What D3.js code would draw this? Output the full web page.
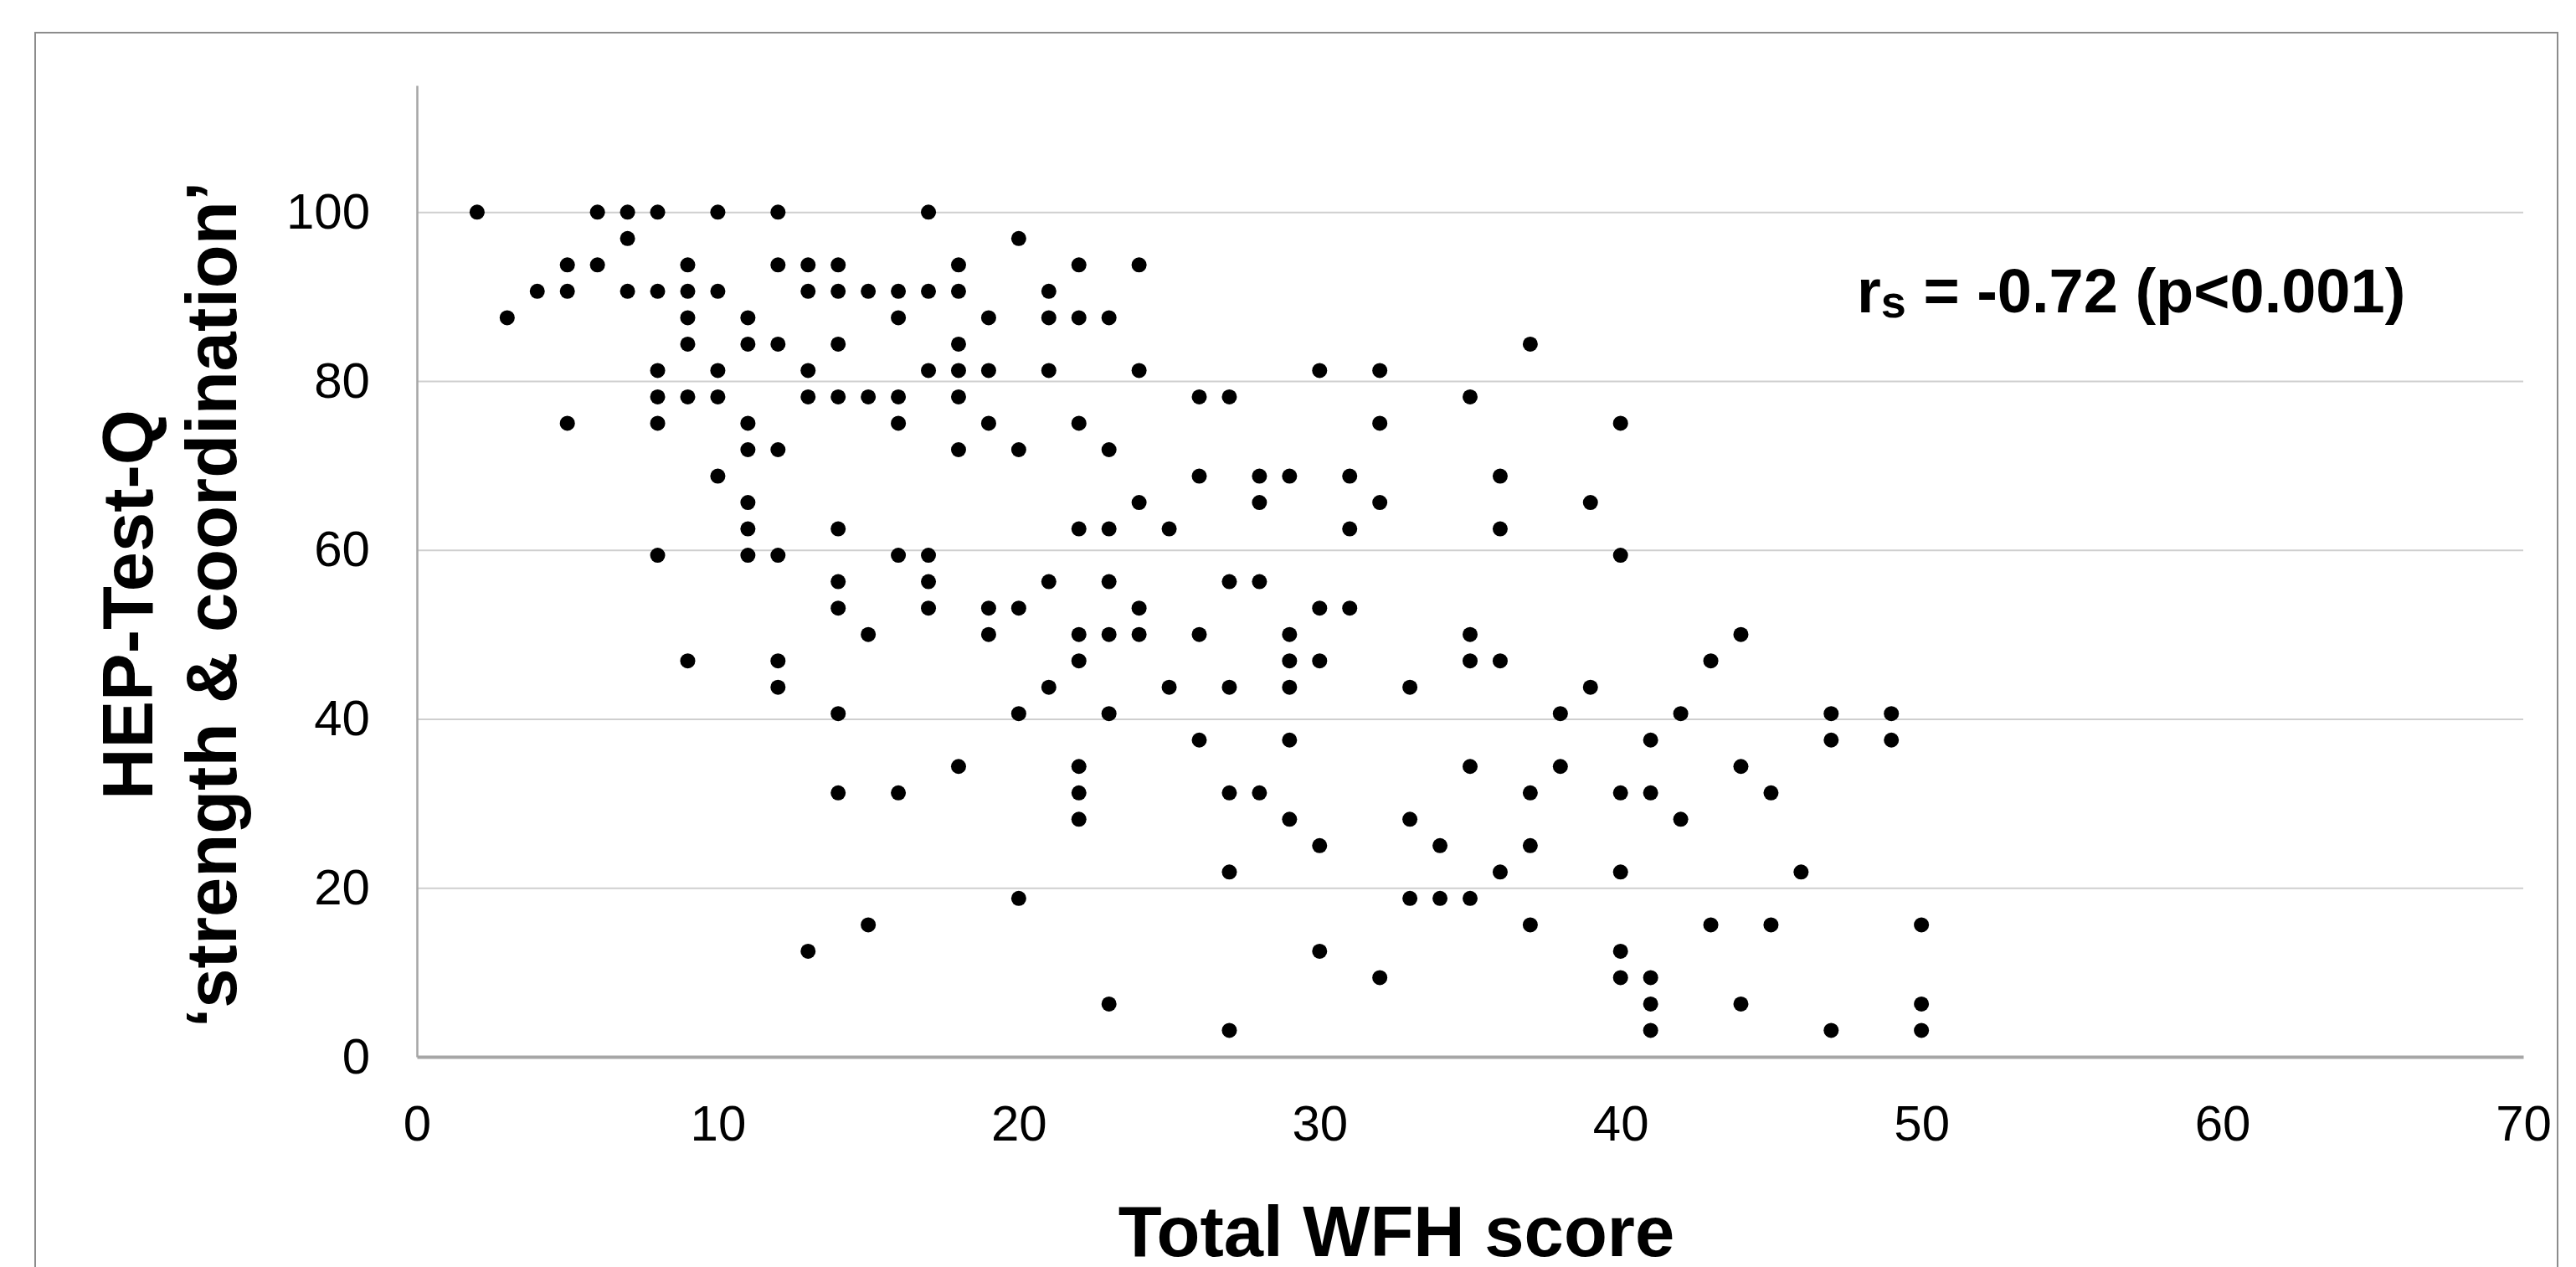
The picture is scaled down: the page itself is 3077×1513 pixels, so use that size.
<!DOCTYPE html>
<html>
<head>
<meta charset="utf-8">
<script src="https://d3js.org/d3.v7.min.js"></script>
<style>
  body { margin: 0; background: #fff; }
  svg { display: block; }
</style>
</head>
<body>
<svg id="chart"></svg>
<script>
// HEP-Test-Q 'strength & coordination' vs total WFH score.
// Scores come in steps of 1/32, so points are kept row by row.
var hepLevels = [100, 96.875, 93.75, 90.625, 87.5, 84.375, 81.25, 78.125, 75,
  71.875, 68.75, 65.625, 62.5, 59.375, 56.25, 53.125, 50, 46.875, 43.75,
  40.625, 37.5, 34.375, 31.25, 28.125, 25, 21.875, 18.75, 15.625, 12.5,
  9.375, 6.25, 3.125]
var wfhByLevel = [
  [2, 6, 7, 8, 10, 12, 17],
  [7, 20],
  [5, 6, 9, 12, 13, 14, 18, 22, 24],
  [4, 5, 7, 8, 9, 10, 13, 14, 15, 16, 17, 18, 21],
  [3, 9, 11, 16, 19, 21, 22, 23],
  [9, 11, 12, 14, 18, 37],
  [8, 10, 13, 17, 18, 19, 21, 24, 30, 32],
  [8, 9, 10, 13, 14, 15, 16, 18, 26, 27, 35],
  [5, 8, 11, 16, 19, 22, 32, 40],
  [11, 12, 18, 20, 23],
  [10, 26, 28, 29, 31, 36],
  [11, 24, 28, 32, 39],
  [11, 14, 22, 23, 25, 31, 36],
  [8, 11, 12, 16, 17, 40],
  [14, 17, 21, 23, 27, 28],
  [14, 17, 19, 20, 24, 30, 31],
  [15, 19, 22, 23, 24, 26, 29, 35, 44],
  [9, 12, 22, 29, 30, 35, 36, 43],
  [12, 21, 25, 27, 29, 33, 39],
  [14, 20, 23, 38, 42, 47, 49],
  [26, 29, 41, 47, 49],
  [18, 22, 35, 38, 44],
  [14, 16, 22, 27, 28, 37, 40, 41, 45],
  [22, 29, 33, 42],
  [30, 34, 37],
  [27, 36, 40, 46],
  [20, 33, 34, 35],
  [15, 37, 43, 45, 50],
  [13, 30, 40],
  [32, 40, 41],
  [23, 41, 44, 50],
  [27, 41, 47, 50]
]
var xTicks = [0, 10, 20, 30, 40, 50, 60, 70]
var yTicks = [0, 20, 40, 60, 80, 100]
var xTitle = 'Total WFH score'
var yTitleLines = ['HEP-Test-Q', '\u2018strength & coordination\u2019']
var corrText = ['r', 's', ' = -0.72 (p<0.001)']

// Layout (pixels)
var width = 3077
var height = 1513
var plot = { left: 498, right: 3014, top: 102, bottom: 1262 }
var font = '"Liberation Sans", Arial, sans-serif'

var points = []
hepLevels.forEach(function (y, i) {
  wfhByLevel[i].forEach(function (x) {
    points.push({ x: x, y: y })
  })
})

var svg = d3.select('#chart')
  .attr('width', width)
  .attr('height', height)
  .style('font-family', font)

svg.append('rect')
  .attr('width', width)
  .attr('height', height)
  .attr('fill', '#fff')

// outer frame of the figure (runs off the bottom)
svg.append('rect')
  .attr('x', 42)
  .attr('y', 39)
  .attr('width', 3013)
  .attr('height', 1520)
  .attr('fill', 'none')
  .attr('stroke', '#8c8c8c')
  .attr('stroke-width', 2)

var x = d3.scaleLinear().domain([0, 70]).range([plot.left, plot.right])
var y = d3.scaleLinear().domain([0, 115]).range([plot.bottom, plot.top])

// gridlines
svg.append('g')
  .attr('transform', 'translate(' + plot.left + ',0)')
  .call(d3.axisLeft(y).tickValues(yTicks.slice(1)).tickSize(-(plot.right - plot.left)).tickFormat(''))
  .call(function (g) { g.select('.domain').remove() })
  .selectAll('line')
  .attr('stroke', '#cfcfcf')
  .attr('stroke-width', 2)

// y axis
var yAxis = svg.append('g')
  .attr('transform', 'translate(' + plot.left + ',0)')
  .call(d3.axisLeft(y).tickValues(yTicks).tickSize(0).tickPadding(56))
yAxis.select('.domain').attr('stroke', '#a6a6a6').attr('stroke-width', 2.5)
yAxis.selectAll('text')
  .attr('font-family', font)
  .attr('font-size', 60)
  .attr('fill', '#000')

// x axis
var xAxis = svg.append('g')
  .attr('transform', 'translate(0,' + plot.bottom + ')')
  .call(d3.axisBottom(x).tickValues(xTicks).tickSize(0).tickPadding(57))
xAxis.select('.domain').attr('stroke', '#a6a6a6').attr('stroke-width', 4)
xAxis.selectAll('text')
  .attr('font-family', font)
  .attr('font-size', 60)
  .attr('fill', '#000')

// points
svg.append('g')
  .selectAll('circle')
  .data(points)
  .join('circle')
  .attr('cx', function (d) { return x(d.x) })
  .attr('cy', function (d) { return y(d.y) })
  .attr('r', 9)
  .attr('fill', '#000')

// axis titles
svg.append('text')
  .attr('x', 1668)
  .attr('y', 1500)
  .attr('text-anchor', 'middle')
  .attr('font-size', 85)
  .attr('font-weight', 'bold')
  .text(xTitle)

var yTitle = svg.append('text')
  .attr('transform', 'translate(182,722) rotate(-90)')
  .attr('text-anchor', 'middle')
  .attr('font-size', 85)
  .attr('font-weight', 'bold')
yTitle.selectAll('tspan')
  .data(yTitleLines)
  .join('tspan')
  .attr('x', 0)
  .attr('y', function (d, i) { return i * 100 })
  .text(function (d) { return d })

// correlation note
var note = svg.append('text')
  .attr('x', 2218)
  .attr('y', 373)
  .attr('font-size', 74)
  .attr('font-weight', 'bold')
note.append('tspan').text(corrText[0])
note.append('tspan').attr('font-size', 54).attr('dy', 6).text(corrText[1])
note.append('tspan').attr('dy', -6).text(corrText[2])
</script>
</body>
</html>
